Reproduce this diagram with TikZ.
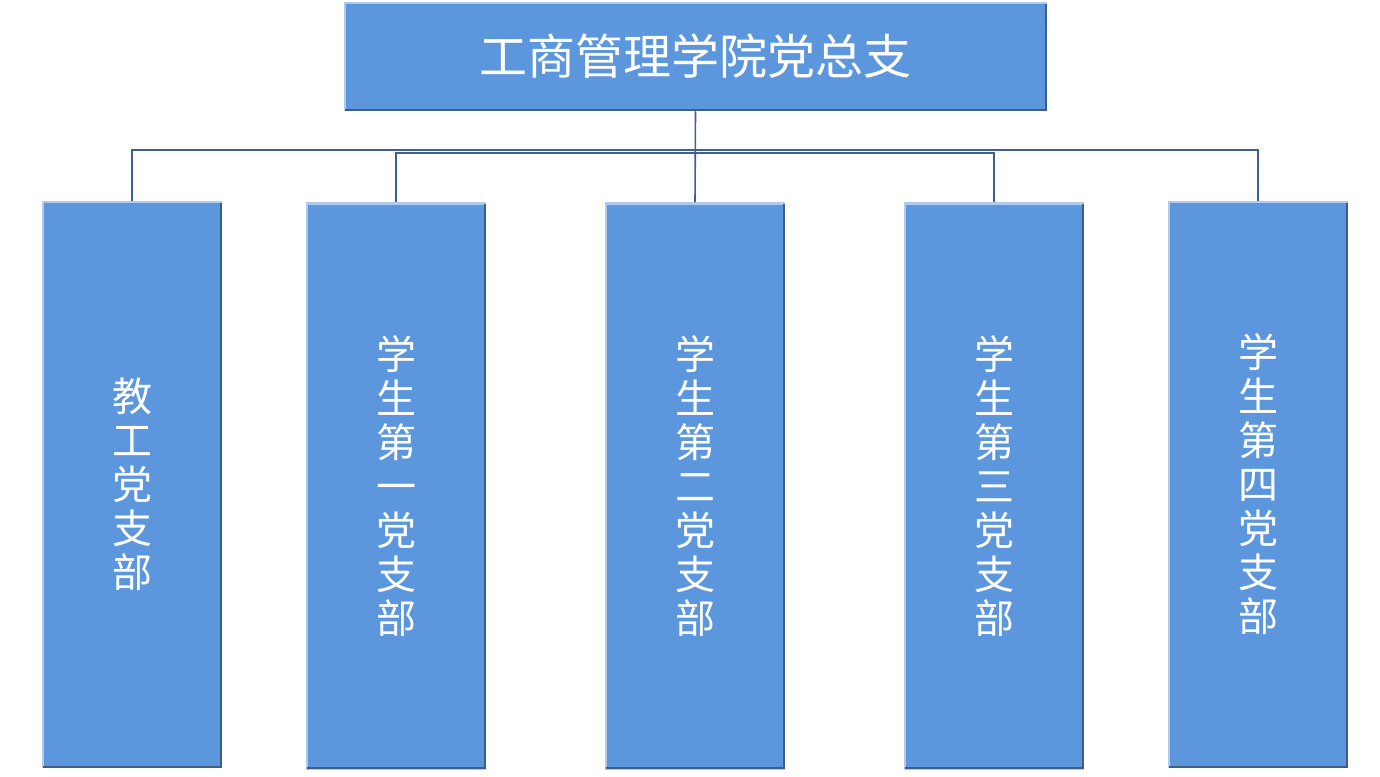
\documentclass[tikz,border=0pt]{standalone}
\usepackage{fontspec}
\newfontfamily\cjk{Noto Sans CJK SC}
\definecolor{boxblue}{RGB}{92,151,222}
\definecolor{rimblue}{RGB}{176,203,238}
\definecolor{edgeblue}{RGB}{62,92,132}
\definecolor{linkblue}{RGB}{64,96,140}
\tikzset{
  unit/.style={draw=rimblue,line width=2.5pt,fill=boxblue,text=white,inner sep=0pt},
  head/.style={unit,minimum width=701pt,minimum height=107pt,font=\cjk\fontsize{48}{52}\selectfont},
  branch/.style={unit,minimum width=178pt,minimum height=565pt,align=center,
    font=\cjk\fontsize{40}{44}\selectfont},
  link/.style={draw=linkblue,line width=1.6pt},
  rim/.style={draw=edgeblue,line width=1.6pt}
}
\begin{document}
\begin{tikzpicture}[x=1pt,y=-1pt]
\useasboundingbox (0,0) rectangle (1380,776);

\node(top) at (695.5,56.5)[head]   {工商管理学院党总支};
\node(b1)  at (132,484.5)[branch]  {教\\工\\党\\支\\部};
\node(b2)  at (396,486)[branch]    {学\\生\\第\\一\\党\\支\\部};
\node(b3)  at (695,486)[branch]    {学\\生\\第\\二\\党\\支\\部};
\node(b4)  at (994,486)[branch]    {学\\生\\第\\三\\党\\支\\部};
\node(b5)  at (1258,484.5)[branch] {学\\生\\第\\四\\党\\支\\部};

\foreach \n in {top,b1,b2,b3,b4,b5}
  \draw[rim] ([shift={(-1.5pt,-2pt)}]\n.north east) -- ([shift={(-1.5pt,1.5pt)}]\n.south east)
    -- ([shift={(1.5pt,1.5pt)}]\n.south west);

\coordinate(outerbus) at (695,150);
\coordinate(innerbus) at (695,153);

\path[link] (top.south) -- (b3.north);
\path[link] (b1.north) |- (outerbus) -| (b5.north);
\path[link,line width=2.4pt] (b2.north) |- (innerbus) -| (b4.north);

\end{tikzpicture}
\end{document}
